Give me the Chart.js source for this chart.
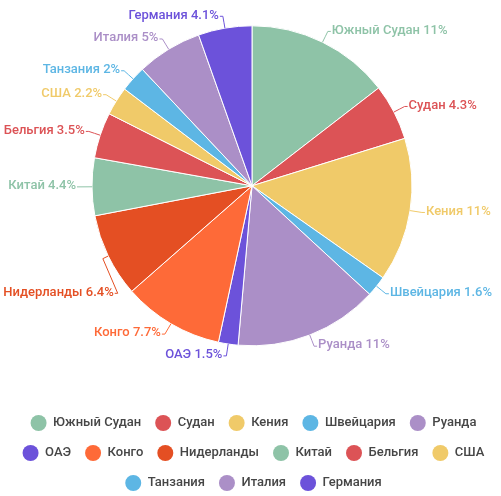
<!DOCTYPE html>
<html>
<head>
<meta charset="utf-8">
<script src="https://cdn.jsdelivr.net/npm/chart.js@4.4.1/dist/chart.umd.min.js"></script>
<style>
  html, body { margin: 0; padding: 0; background: #fff; }
  #wrap { width: 501px; height: 496px; }
</style>
</head>
<body>
<div id="wrap"><canvas id="myChart"></canvas></div>
<script>
// Data (values are the percentages shown in the labels)
const countries = ['Южный Судан', 'Судан', 'Кения', 'Швейцария', 'Руанда', 'ОАЭ', 'Конго',
  'Нидерланды', 'Китай', 'Бельгия', 'США', 'Танзания', 'Италия', 'Германия'];
const shares = [11, 4.3, 11, 1.6, 11, 1.5, 7.7, 6.4, 4.4, 3.5, 2.2, 2, 5, 4.1];
const sliceColors = ['#8ec3a7', '#dc5356', '#f0ca69', '#5db6e4', '#ab8fc7', '#6c52da', '#fe6a38',
  '#e44f23', '#8ec3a7', '#dc5356', '#f0ca69', '#5db6e4', '#ab8fc7', '#6c52da'];

const FONT = 'Roboto, "Noto Sans", sans-serif';

// outside labels with small leader lines
const outsideLabels = {
  id: 'outsideLabels',
  afterDatasetsDraw(chart) {
    const ctx = chart.ctx;
    const meta = chart.getDatasetMeta(0);
    const W = chart.width;
    ctx.save();
    ctx.font = '500 13px ' + FONT;
    const items = [];
    meta.data.forEach((arc, i) => {
      const a = (arc.startAngle + arc.endAngle) / 2;
      const r = arc.outerRadius;
      const R = r + 12;
      const cos = Math.cos(a), sin = Math.sin(a);
      const text = countries[i] + ' ' + shares[i] + '%';
      const tw = ctx.measureText(text).width;
      const right = cos >= 0;
      const d = {
        i, text, right, cx: arc.x, cy: arc.y, R,
        x0: arc.x + cos * r, y0: arc.y + sin * r,
        xe: arc.x + cos * (r + 6), ye: arc.y + sin * (r + 6),
        x1: arc.x + cos * R, y1: arc.y + sin * R
      };
      // push label away from the middle if it would run off the canvas
      const fits = () => right ? d.x1 + 4 + tw <= W - 3 : d.x1 - 4 - tw >= 3;
      const step = sin >= 0 ? 1 : -1;
      while (!fits() && Math.abs(d.y1 - d.cy) < R - 1) {
        d.y1 += step;
        const dx = Math.sqrt(R * R - (d.y1 - d.cy) ** 2);
        d.x1 = d.cx + (right ? dx : -dx);
      }
      items.push(d);
    });
    // simple overlap avoidance per side
    [true, false].forEach(side => {
      const list = items.filter(d => d.right === side).sort((p, q) => p.y1 - q.y1);
      for (let k = 1; k < list.length; k++) {
        if (list[k].y1 - list[k - 1].y1 < 16) list[k].y1 = list[k - 1].y1 + 16;
      }
    });
    ctx.textBaseline = 'middle';
    ctx.lineWidth = 1;
    items.forEach(d => {
      const col = sliceColors[d.i];
      const dir = d.right ? 1 : -1;
      const x2 = d.x1 + dir * 3;
      ctx.strokeStyle = col;
      ctx.beginPath();
      ctx.moveTo(d.x0, d.y0);
      ctx.lineTo(d.xe, d.ye);
      ctx.lineTo(d.x1, d.y1);
      ctx.lineTo(x2, d.y1);
      ctx.stroke();
      ctx.fillStyle = col;
      ctx.textAlign = d.right ? 'left' : 'right';
      ctx.fillText(d.text, x2 + dir * 1, d.y1 - 1);
    });
    ctx.restore();
  }
};

const ctx = document.getElementById('myChart').getContext('2d');
const chart = new Chart(ctx, {
  type: 'pie',
  data: {
    labels: countries,
    datasets: [{
      data: shares,
      backgroundColor: sliceColors,
      borderColor: '#ffffff',
      borderWidth: 1,
      radius: 160
    }]
  },
  options: {
    responsive: true,
    maintainAspectRatio: false,
    animation: false,
    layout: { padding: { top: 26, bottom: -5, left: 3, right: -3 } },
    plugins: {
      tooltip: { enabled: false },
      legend: {
        position: 'bottom',
        // empty title only used as a spacer between the pie and the legend rows
        title: { display: true, text: ' ', font: { size: 12 }, padding: { top: 21, bottom: 20 } },
        labels: {
          boxWidth: 16,
          boxHeight: 16,
          padding: 14,
          color: '#464646',
          font: { family: FONT, size: 13, weight: '500' },
          generateLabels(chart) {
            const base = Chart.overrides.pie.plugins.legend.labels.generateLabels(chart);
            return base.map(it => Object.assign(it, { borderRadius: 8, lineWidth: 0 }));
          }
        }
      }
    }
  },
  plugins: [outsideLabels]
});
</script>
</body>
</html>
